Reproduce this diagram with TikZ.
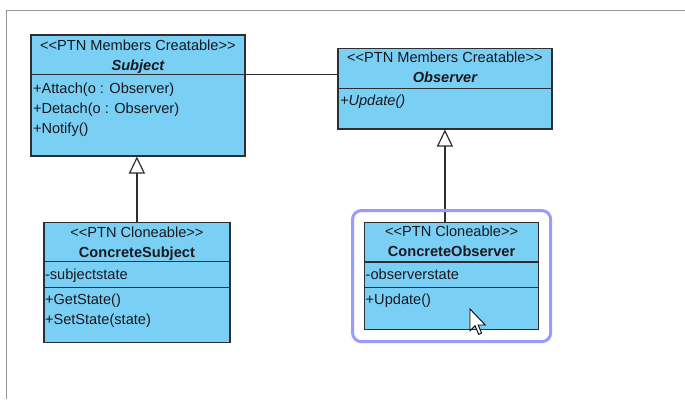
\documentclass[tikz,border=0pt]{standalone}
\usepackage{fontspec}
\setmainfont{Liberation Sans}
\usetikzlibrary{arrows.meta,positioning,fit,calc}
\definecolor{classfill}{RGB}{122,207,245}
\definecolor{classline}{RGB}{45,45,50}
\definecolor{selectline}{RGB}{155,155,255}
\definecolor{framegray}{RGB}{150,150,162}
\definecolor{textdark}{RGB}{25,25,30}
\newcommand\umlstereo[1]{<\kern0pt<#1>\kern0pt>}
\newcommand\umlfont{\fontsize{14.6}{17}\selectfont}
\tikzset{
  classbox/.style={draw=classline, fill=classfill, line width=1.2pt, inner sep=0pt, anchor=north west},
  compline/.style={draw=classline, line width=1.2pt},
  stereo/.style={anchor=base, inner sep=0pt, font=\umlfont, text=textdark},
  classname/.style={stereo, font=\umlfont\bfseries},
  member/.style={anchor=base west, inner sep=0pt, font=\umlfont, text=textdark},
  inherit/.style={-{Triangle[open, fill=white, length=17pt, width=16pt]}, line width=1.2pt, draw=classline},
  assoc/.style={line width=1.2pt, draw=classline},
  selected/.style={draw=selectline, line width=3pt, rounded corners=9pt, inner sep=11.5pt},
  cursor/.style={fill=white, draw=black, line width=0.9pt, line join=miter}
}

\begin{document}
\begin{tikzpicture}[x=1pt, y=-1pt]
  \useasboundingbox (0,0) rectangle (685,399);
  % diagram frame
  \draw[framegray, line width=1.5pt] (6.5,399) |- (685,10.5);

  % classes
  \node[classbox, minimum width=214pt, minimum height=121pt] (Subject) at (30.3,34.3) {};
  \node[classbox, minimum width=214pt, minimum height=80.6pt] (Observer) at (337.3,47.7) {};
  \node[classbox, minimum width=186pt, minimum height=120pt] (ConcreteSubject) at (43.3,222) {};
  \node[classbox, minimum width=174pt, minimum height=107pt] (ConcreteObserver) at (364,222) {};

  % compartments
  \draw[compline] ($(Subject.north west)+(0,40.4)$) coordinate (Subject-sep) -- (Subject-sep -| Subject.east);
  \draw[compline] ($(Observer.north west)+(0,40.6)$) coordinate (Observer-sep) -- (Observer-sep -| Observer.east);
  \draw[compline] ($(ConcreteSubject.north west)+(0,39.7)$) coordinate (ConcreteSubject-attr) -- (ConcreteSubject-attr -| ConcreteSubject.east);
  \draw[compline] ($(ConcreteSubject.north west)+(0,65.3)$) coordinate (ConcreteSubject-ops) -- (ConcreteSubject-ops -| ConcreteSubject.east);
  \draw[compline] ($(ConcreteObserver.north west)+(0,40)$) coordinate (ConcreteObserver-attr) -- (ConcreteObserver-attr -| ConcreteObserver.east);
  \draw[compline] ($(ConcreteObserver.north west)+(0,65.7)$) coordinate (ConcreteObserver-ops) -- (ConcreteObserver-ops -| ConcreteObserver.east);

  % Subject
  \node[stereo] (Subject-st) at ($(Subject.north)+(0,15.7)$) {\umlstereo{PTN Members Creatable}};
  \node[classname] (Subject-name) at ($(Subject.north)+(0,35.7)$) {\itshape Subject};
  \node[member] (Subject-op1) at ($(Subject-sep)+(2.5,18.8)$) {+Attach(o : Observer)};
  \node[member] (Subject-op2) at ($(Subject-sep)+(2.5,38.8)$) {+Detach(o : Observer)};
  \node[member] (Subject-op3) at ($(Subject-sep)+(2.5,58.8)$) {+Notify()};

  % Observer
  \node[stereo] (Observer-st) at ($(Observer.north)+(0,15)$) {\umlstereo{PTN Members Creatable}};
  \node[classname] (Observer-name) at ($(Observer.north)+(0,35)$) {\itshape Observer};
  \node[member] (Observer-op1) at ($(Observer-sep)+(2.5,17.2)$) {\itshape +Update()};

  % ConcreteSubject
  \node[stereo] (ConcreteSubject-st) at ($(ConcreteSubject.north)+(0,15)$) {\umlstereo{PTN Cloneable}};
  \node[classname] (ConcreteSubject-name) at ($(ConcreteSubject.north)+(0,35.3)$) {ConcreteSubject};
  \node[member] (ConcreteSubject-at1) at ($(ConcreteSubject-attr)+(1.5,17.6)$) {-subjectstate};
  \node[member] (ConcreteSubject-op1) at ($(ConcreteSubject-ops)+(1.5,17)$) {+GetState()};
  \node[member] (ConcreteSubject-op2) at ($(ConcreteSubject-ops)+(1.5,36.7)$) {+SetState(state)};

  % ConcreteObserver
  \node[stereo] (ConcreteObserver-st) at ($(ConcreteObserver.north)+(0,14.7)$) {\umlstereo{PTN Cloneable}};
  \node[classname] (ConcreteObserver-name) at ($(ConcreteObserver.north)+(0,34.7)$) {ConcreteObserver};
  \node[member] (ConcreteObserver-at1) at ($(ConcreteObserver-attr)+(1.5,17.3)$) {-observerstate};
  \node[member] (ConcreteObserver-op1) at ($(ConcreteObserver-ops)+(1.5,16.6)$) {+Update()};

  % relations
  \draw[assoc] (Subject-sep -| Subject.east) -- (Subject-sep -| Observer.west);
  \draw[inherit] (ConcreteSubject.north) -- (ConcreteSubject.north |- Subject.south);
  \draw[inherit] (Observer.south |- ConcreteObserver.north) -- (Observer.south);

  % selection and mouse pointer
  \node[selected, fit=(ConcreteObserver)] (selection) {};
  \draw[cursor, shift={(470,309)}, scale=1.45]
    (0,0) -- (0,15) -- (3.5,11.5) -- (6,17.5) -- (8,16.6) -- (5.6,11) -- (10.5,11) -- cycle;
\end{tikzpicture}
\end{document}
